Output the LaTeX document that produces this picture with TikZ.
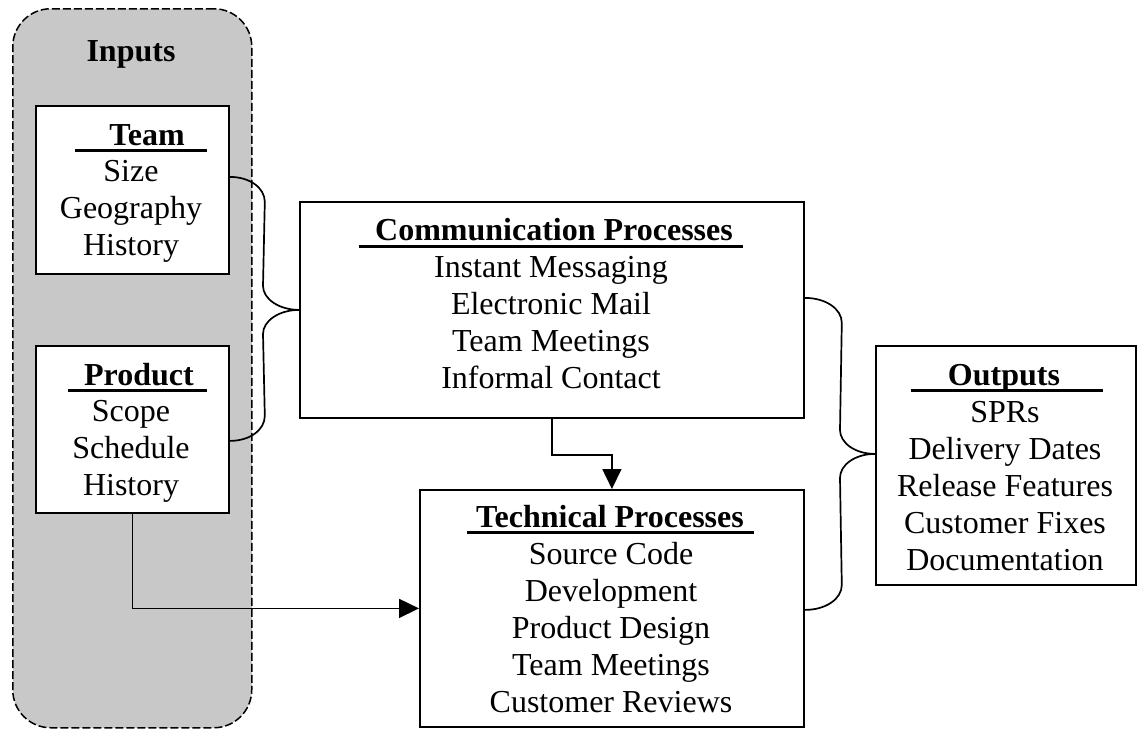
\documentclass[tikz,border=0pt]{standalone}
\usepackage{fontspec}
\setmainfont{Liberation Serif}
\usetikzlibrary{arrows.meta,calc}
\definecolor{inbg}{RGB}{200,200,200}
\begin{document}
\begin{tikzpicture}[x=1pt,y=-1pt,
  box/.style={draw=black,line width=1.8pt,fill=white,inner sep=0pt,anchor=north west},
  txt/.style={anchor=base,inner sep=0pt,font=\fontsize{32}{37}\selectfont},
  ttl/.style={anchor=base,inner sep=0pt,font=\fontsize{32}{37}\selectfont\bfseries},
  uline/.style={line width=3pt},
  conn/.style={line width=1.7pt},
  arr/.style={conn,-{Triangle[length=20pt,width=19pt]}}
]
\useasboundingbox (0,0) rectangle (1141,729);

% Inputs group
\node[draw=black,fill=inbg,line width=1.5pt,dash pattern=on 8pt off 3pt,rounded corners=38pt,
      minimum width=239pt,minimum height=719pt,inner sep=0pt,anchor=north west] (inputs) at (12,8) {};
\node[ttl] (inputsT) at (131,61) {Inputs};

% Boxes
\node[box,minimum width=193pt,minimum height=168pt] (team) at (35,105) {};
\node[box,minimum width=193pt,minimum height=167pt] (product) at (35,345) {};
\node[box,minimum width=504pt,minimum height=216pt] (comm) at (299,201) {};
\node[box,minimum width=384pt,minimum height=237pt] (tech) at (419,489) {};
\node[box,minimum width=260pt,minimum height=239pt] (outputs) at (875,345) {};

% Team
\node[ttl] (teamT) at (147,145) {Team};
\draw[uline] (75,150) -- (207,150);
\foreach \t [count=\i] in {Size,Geography,History}
  \node[txt] (teamL\i) at (131,144+37*\i) {\t};

% Product
\node[ttl] (productT) at (139,385) {Product};
\draw[uline] (68,390) -- (207,390);
\foreach \t [count=\i] in {Scope,Schedule,History}
  \node[txt] (productL\i) at (131,384+37*\i) {\t};

% Communication
\node[ttl] (commT) at (554,240) {Communication Processes};
\draw[uline] (359,246) -- (743,246);
\foreach \t [count=\i] in {Instant Messaging,Electronic Mail,Team Meetings,Informal Contact}
  \node[txt] (commL\i) at (551,240+37*\i) {\t};

% Technical
\node[ttl] (techT) at (610,527) {Technical Processes};
\draw[uline] (467,532) -- (754,532);
\foreach \t [count=\i] in {Source Code,Development,Product Design,Team Meetings,Customer Reviews}
  \node[txt] (techL\i) at (611,527+37*\i) {\t};

% Outputs
\node[ttl] (outputsT) at (1004,385) {Outputs};
\draw[uline] (911,390) -- (1103,390);
\foreach \t [count=\i] in {SPRs,Delivery Dates,Release Features,Customer Fixes,Documentation}
  \node[txt] (outputsL\i) at (1005,385+37*\i) {\t};

% Brace anchors
\coordinate (tA) at ([yshift=13pt]team.east);
\coordinate (pB) at ([yshift=-11.5pt]product.east);
\coordinate (cA) at ([yshift=12pt]comm.east);
\coordinate (oT) at ([yshift=11.5pt]outputs.west);
\coordinate (tB) at ([yshift=-1.5pt]tech.east);

% Left brace: Team + Product -> Communication
\draw[conn] (tA) .. controls +(20,0) and +(0,-14) .. ++(35,25)
  -- ($(comm.west)+(-36,-24)$) .. controls +(0,13) and +(-20,0) .. (comm.west)
  .. controls +(-20,0) and +(0,-13) .. ++(-36,24)
  -- ($(pB)+(35,-25)$) .. controls +(0,14) and +(20,0) .. (pB);

% Right brace: Communication + Technical -> Outputs
\draw[conn] (cA) .. controls +(21,0) and +(0,-14) .. ++(37,25)
  -- ($(oT)+(-35,-24)$) .. controls +(0,13) and +(-20,0) .. (oT)
  .. controls +(-20,0) and +(0,-13) .. ++(-35,24)
  -- ($(tB)+(37,-25)$) .. controls +(0,14) and +(21,0) .. (tB);

% Arrows
\draw[arr] (comm.south) -- ++(0,36) -| (tech.north);
\draw[arr] (product.south) |- (tech.west);
\end{tikzpicture}
\end{document}
